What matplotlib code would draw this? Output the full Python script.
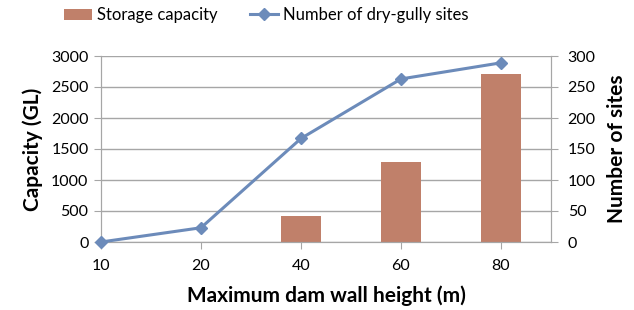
import matplotlib
matplotlib.use("Agg")
import matplotlib.pyplot as plt
import numpy as np

plt.rcParams['font.family'] = ['Lato', 'DejaVu Sans']

heights = ["10", "20", "40", "60", "80"]
capacity = [0, 8, 420, 1290, 2710]
sites = [0, 23, 167, 263, 289]

bar_color = "#C0806A"
line_color = "#6C8BBA"

fig = plt.figure(figsize=(6.34, 3.10), dpi=100)
ax = fig.add_axes([101/634, 1-242/310, 450/634, 186/310])
ax2 = ax.twinx()

x = np.arange(len(heights))
ax.bar(x, capacity, width=0.4, color=bar_color, zorder=2, label="Storage capacity")
ax2.plot(x, sites, color=line_color, lw=2.2, marker="D", ms=6, zorder=3,
         label="Number of dry-gully sites", clip_on=False)

ax.set_xlim(0, 4.5)
ax.set_ylim(0, 3000)
ax2.set_ylim(0, 300)
ax.set_yticks(np.arange(0, 3001, 500))
ax2.set_yticks(np.arange(0, 301, 50))
ax.set_xticks(x)
ax.set_xticklabels(heights)
ax.grid(axis="y", color="#A6A6A6", lw=1, zorder=0)
ax.set_axisbelow(True)

for a in (ax, ax2):
    a.spines["top"].set_visible(False)
    for s in ("left", "right", "bottom"):
        a.spines[s].set_color("#A6A6A6")
    a.tick_params(axis="both", colors="#A6A6A6", labelcolor="black", labelsize=11.5, length=5)
ax.tick_params(axis="x", length=5, pad=7)
ax.tick_params(axis="y", pad=4)
ax2.tick_params(axis="y", pad=7)

ax.set_xlabel("Maximum dam wall height (m)", fontsize=15, fontweight="bold", labelpad=9)
ax.set_ylabel("Capacity (GL)", fontsize=15, fontweight="bold", labelpad=6)
ax2.set_ylabel("Number of sites", fontsize=15, fontweight="bold", labelpad=8)

h1, l1 = ax.get_legend_handles_labels()
h2, l2 = ax2.get_legend_handles_labels()
fig.legend(h1 + h2, l1 + l2, loc="upper center", bbox_to_anchor=(0.42, 1.025), ncol=2,
           frameon=False, fontsize=12, handlelength=1.7, handletextpad=0.3, columnspacing=1.9)

fig.savefig("out.png", dpi=100)
